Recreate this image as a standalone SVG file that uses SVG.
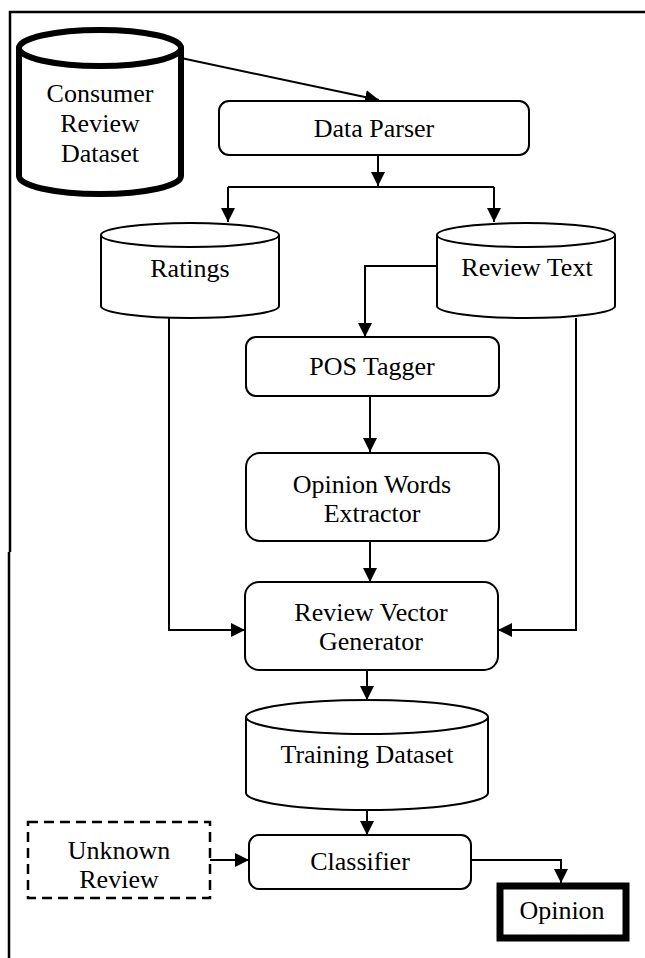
<svg xmlns="http://www.w3.org/2000/svg" width="645" height="958" viewBox="0 0 645 958">
<defs>
<style>
.t{font-family:"Liberation Serif","Times New Roman",serif;font-size:26px;fill:#000;text-anchor:middle;dominant-baseline:central}
.n{fill:#fff;stroke:#000;stroke-width:2}
.c{fill:none;stroke:#000;stroke-width:2}
</style>
<marker id="ah" viewBox="0 0 14 14" refX="14" refY="7" markerWidth="14" markerHeight="14" markerUnits="userSpaceOnUse" orient="auto">
<path d="M0,0 L14,7 L0,14 Z" fill="#000"/>
</marker>
</defs>
<rect width="645" height="958" fill="#fff"/>
<g id="frame" class="c" style="stroke-width:2.5">
<path d="M9,958 V552 M10,552 V12 H645"/>
</g>
<g id="connectors" class="c">
<path d="M181,58 L379,100" marker-end="url(#ah)"/>
<path d="M378,155 V186" marker-end="url(#ah)"/>
<path d="M228,187 H494"/>
<path d="M228,187 V222" marker-end="url(#ah)"/>
<path d="M494,187 V222" marker-end="url(#ah)"/>
<path d="M437,266 H365 V337" marker-end="url(#ah)"/>
<path d="M370,396 V452" marker-end="url(#ah)"/>
<path d="M370,541 V582" marker-end="url(#ah)"/>
<path d="M169,318 V630 H245" marker-end="url(#ah)"/>
<path d="M576,318 V630 H498" marker-end="url(#ah)"/>
<path d="M367,670 V700" marker-end="url(#ah)"/>
<path d="M367,811 V835" marker-end="url(#ah)"/>
<path d="M210,860 H249" marker-end="url(#ah)"/>
<path d="M471,860 H561 V883" marker-end="url(#ah)"/>
</g>
<g id="consumer">
<path d="M19,48 V176 A81,18 0 0 0 181,176 V48" class="n" style="stroke-width:6"/>
<ellipse cx="100" cy="48" rx="81" ry="18" class="n" style="stroke-width:6"/>
<text class="t" x="100" y="93">Consumer</text>
<text class="t" x="100" y="123">Review</text>
<text class="t" x="100" y="153">Dataset</text>
</g>
<g id="parser">
<rect x="219" y="101" width="310" height="54" rx="10" class="n"/>
<text class="t" x="374" y="128">Data Parser</text>
</g>
<g id="ratings">
<path d="M101,235 V306 A89,12 0 0 0 279,306 V235" class="n"/>
<ellipse cx="190" cy="235" rx="89" ry="12" class="n"/>
<text class="t" x="190" y="268">Ratings</text>
</g>
<g id="reviewtext">
<path d="M437,235 V306 A89,12 0 0 0 615,306 V235" class="n"/>
<ellipse cx="526" cy="235" rx="89" ry="12" class="n"/>
<text class="t" x="527" y="267">Review Text</text>
</g>
<g id="pos">
<rect x="246" y="337" width="253" height="59" rx="10" class="n"/>
<text class="t" x="372" y="366">POS Tagger</text>
</g>
<g id="owe">
<rect x="246" y="453" width="253" height="88" rx="14" class="n"/>
<text class="t" x="372" y="484">Opinion Words</text>
<text class="t" x="372" y="513">Extractor</text>
</g>
<g id="rvg">
<rect x="245" y="582" width="253" height="88" rx="14" class="n"/>
<text class="t" x="371" y="612">Review Vector</text>
<text class="t" x="371" y="641">Generator</text>
</g>
<g id="training">
<path d="M246,717 V793 A121,17 0 0 0 488,793 V717" class="n"/>
<ellipse cx="367" cy="717" rx="121" ry="17" class="n"/>
<text class="t" x="367" y="754">Training Dataset</text>
</g>
<g id="unknown">
<rect x="28" y="822" width="182" height="76" fill="#fff" stroke="#000" stroke-width="2.5" stroke-dasharray="10,6"/>
<text class="t" x="119" y="850">Unknown</text>
<text class="t" x="119" y="879">Review</text>
</g>
<g id="classifier">
<rect x="249" y="835" width="222" height="54" rx="10" class="n"/>
<text class="t" x="360" y="861">Classifier</text>
</g>
<g id="opinion">
<rect x="500" y="886" width="126" height="52" fill="#fff" stroke="#000" stroke-width="7"/>
<text class="t" x="562" y="910">Opinion</text>
</g>
</svg>
